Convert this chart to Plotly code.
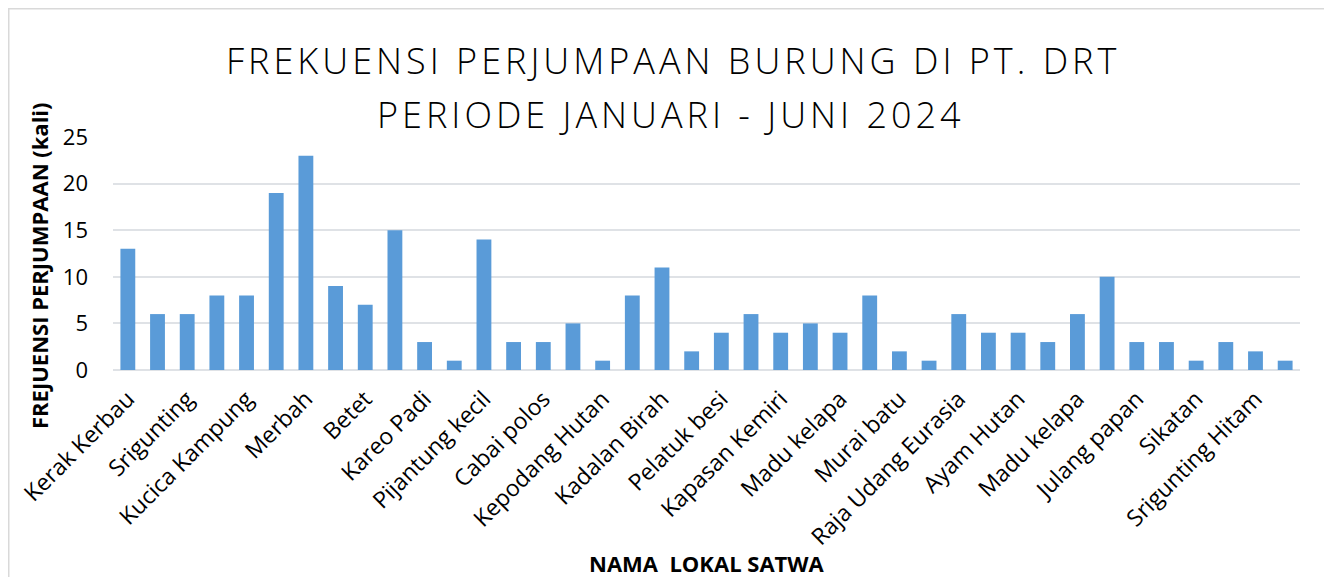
import plotly.graph_objects as go

# Positions 1..40 (only every other bar is labelled in the reference)
positions = list(range(1, 41))
values = [13, 6, 6, 8, 8, 19, 23, 9, 7, 15,
          3, 1, 14, 3, 3, 5, 1, 8, 11, 2,
          4, 6, 4, 5, 4, 8, 2, 1, 6, 4,
          4, 3, 6, 10, 3, 3, 1, 3, 2, 1]
tick_positions = list(range(1, 41, 2))
tick_labels = ["Kerak Kerbau", "Srigunting", "Kucica Kampung", "Merbah", "Betet",
               "Kareo Padi", "Pijantung kecil", "Cabai polos", "Kepodang Hutan",
               "Kadalan Birah", "Pelatuk besi", "Kapasan Kemiri", "Madu kelapa",
               "Murai batu", "Raja Udang Eurasia", "Ayam Hutan", "Madu kelapa",
               "Julang papan", "Sikatan", "Srigunting Hitam"]
y_ticks = [0, 5, 10, 15, 20, 25]

title_line1 = "FREKUENSI PERJUMPAAN BURUNG DI PT. DRT"
title_line2 = "PERIODE JANUARI - JUNI 2024"

OFF = 8  # page body margin
W, H = 1332 - OFF, 577 - OFF
L, R, T, B = 113 - OFF, 32, 137 - OFF, 207
pw, ph = W - L - R, H - T - B

def px_x(x):
    return (x - OFF - L) / pw

def px_y(y):
    return (H - B - (y - OFF)) / ph

def spaced(s):
    return '<span style="letter-spacing:4px">' + s + '</span>'

fig = go.Figure()
fig.add_trace(go.Bar(
    x=positions, y=values,
    marker=dict(color="#5a9bd8", line=dict(width=0)),
    width=0.5,
))

fig.update_layout(
    width=W, height=H,
    margin=dict(l=L, r=R, t=T, b=B),
    paper_bgcolor="white", plot_bgcolor="white",
    showlegend=False,
    font=dict(family="Open Sans", color="#000000"),
    xaxis=dict(
        range=[0.5, 40.5],
        tickmode="array", tickvals=tick_positions, ticktext=tick_labels,
        tickangle=-45, tickfont=dict(size=23, family="Open Sans", color="#000"),
        showgrid=False, zeroline=False, showline=False, ticks="",
        ticklabelstandoff=10,
        title=None,
        automargin=False,
    ),
    yaxis=dict(
        range=[0, 25],
        tickmode="array", tickvals=y_ticks,
        tickfont=dict(size=22, family="Open Sans", color="#000"),
        showgrid=True, gridcolor="#dfe2e6", gridwidth=2,
        zeroline=True, zerolinecolor="#dfe2e6", zerolinewidth=2,
        showline=False, ticks="", ticklabelstandoff=24,
        title=None,
        automargin=False,
    ),
    annotations=[
        dict(text=spaced(title_line1), xref="paper", yref="paper", x=px_x(673), y=px_y(60),
             xanchor="center", yanchor="middle", showarrow=False,
             font=dict(size=36, family="Open Sans", weight=300, color="#000")),
        dict(text=spaced(title_line2), xref="paper", yref="paper", x=px_x(671), y=px_y(114),
             xanchor="center", yanchor="middle", showarrow=False,
             font=dict(size=36, family="Open Sans", weight=300, color="#000")),
        dict(text="<b>FREJUENSI PERJUMPAAN (kali)</b>", xref="paper", yref="paper",
             x=px_x(39), y=px_y(266), xanchor="center", yanchor="middle",
             textangle=-90, showarrow=False,
             font=dict(size=22, family="Open Sans", color="#000")),
        dict(text="<b>NAMA  LOKAL SATWA</b>", xref="paper", yref="paper",
             x=px_x(707), y=px_y(563), xanchor="center", yanchor="middle",
             showarrow=False, font=dict(size=22, family="Open Sans", color="#000")),
    ],
    shapes=[
        dict(type="rect", xref="paper", yref="paper",
             x0=px_x(8.75), x1=px_x(1328), y0=px_y(600), y1=px_y(8.75),
             line=dict(color="#d9d9d9", width=1.5), fillcolor="rgba(0,0,0,0)", layer="below"),
    ],
)

fig.write_html("out.html")
